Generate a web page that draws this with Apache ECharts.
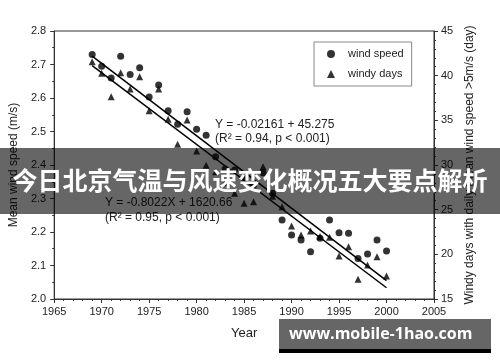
<!DOCTYPE html>
<html><head><meta charset="utf-8">
<script src="https://cdn.jsdelivr.net/npm/echarts@6/dist/echarts.min.js"></script>
<style>html,body{margin:0;padding:0;background:#fff}#c{width:500px;height:362px}</style>
</head><body><div id="c"></div>
<script>
const years = [1969,1970,1971,1972,1973,1974,1975,1976,1977,1978,1979,1980,1981,1982,1983,1984,1985,1986,1987,1988,1989,1990,1991,1992,1993,1994,1995,1996,1997,1998,1999,2000];
const windSpeed = [2.73,2.695,2.66,2.725,2.67,2.69,2.603,2.639,2.562,2.522,2.559,2.507,2.489,2.425,2.388,2.385,2.36,2.34,2.377,2.316,2.236,2.191,2.176,2.141,2.181,2.236,2.198,2.196,2.121,2.134,2.176,2.143];
const windyDays = [41.56,40.26,37.65,40.33,38.5,39.88,36.08,38.5,35.12,32.32,35.04,31.57,29.97,29.25,28.0,26.83,25.71,25.9,29.81,26.5,25.33,23.17,22.17,22.6,22.0,21.9,19.81,20.85,17.2,18.8,19.74,17.57];
const speedFit = [-0.02161, 45.275];   // slope, intercept
const daysFit = [-0.8022, 1620.66];
const fitYears = [1969, 2000];
const speedEq = ['Y = -0.02161 + 45.275', '(R² = 0.94, p < 0.001)'];
const daysEq = ['Y = -0.8022X + 1620.66', '(R² = 0.95, p < 0.001)'];
const titleText = '今日北京气温与风速变化概况五大要点解析';
const watermark = 'www.mobile-1hao.com';

const FONT = '"Liberation Sans", Arial, Helvetica, sans-serif';
const axisCol = '#333';
const chart = echarts.init(document.getElementById('c'));
const fitLine = (c) => fitYears.map(y => [y, c[0]*y + c[1]]);

chart.setOption({
  animation: false,
  textStyle: {fontFamily: FONT},
  grid: {left: 49, right: 66, top: 31, bottom: 63, show: true, borderColor: axisCol, borderWidth: 1},
  legend: {
    orient: 'vertical', left: 314, top: 42, data: ['wind speed','windy days'],
    borderColor: '#888', borderWidth: 1, padding: [5, 8, 5, 13], itemGap: 6,
    itemWidth: 8, itemHeight: 8,
    textStyle: {fontSize: 11, color: '#222', fontFamily: FONT, lineHeight: 14, padding: [0,0,0,8]}
  },
  xAxis: {
    type: 'value', min: 1965, max: 2005, interval: 5,
    name: 'Year', nameLocation: 'middle', nameGap: 28,
    nameTextStyle: {fontSize: 13, color: '#222', fontFamily: FONT},
    axisLine: {lineStyle: {color: axisCol}},
    axisTick: {length: 4, lineStyle: {color: axisCol}},
    minorTick: {show: true, splitNumber: 5, length: 2, lineStyle: {color: axisCol}},
    axisLabel: {fontSize: 11, color: '#222', fontFamily: FONT, margin: 7, formatter: v => String(v)},
    splitLine: {show: false}
  },
  yAxis: [{
    type: 'value', min: 2.0, max: 2.8, interval: 0.1, position: 'left',
    name: 'Mean wind speed (m/s)', nameLocation: 'middle', nameGap: 30, nameRotate: 90,
    nameTextStyle: {fontSize: 12, color: '#222', fontFamily: FONT},
    axisLine: {show: true, lineStyle: {color: axisCol}},
    axisTick: {show: true, length: 4, lineStyle: {color: axisCol}},
    minorTick: {show: true, splitNumber: 2, length: 2, lineStyle: {color: axisCol}},
    axisLabel: {fontSize: 11, color: '#222', fontFamily: FONT, margin: 8, formatter: v => v.toFixed(1)},
    splitLine: {show: false}
  }, {
    type: 'value', min: 15, max: 45, interval: 5, position: 'right',
    name: 'Windy days with daily mean wind speed >5m/s (day)', nameLocation: 'middle', nameGap: 29, nameRotate: 90,
    nameTextStyle: {fontSize: 12, color: '#222', fontFamily: FONT},
    axisLine: {show: true, lineStyle: {color: axisCol}},
    axisTick: {show: true, length: 4, lineStyle: {color: axisCol}},
    minorTick: {show: true, splitNumber: 5, length: 2, lineStyle: {color: axisCol}},
    axisLabel: {fontSize: 11, color: '#222', fontFamily: FONT, margin: 7},
    splitLine: {show: false}
  }],
  series: [
    {name: 'wind speed', type: 'scatter', yAxisIndex: 0, symbol: 'circle', symbolSize: 7,
     itemStyle: {color: '#000'}, data: years.map((y,i) => [y, windSpeed[i]])},
    {name: 'windy days', type: 'scatter', yAxisIndex: 1, symbol: 'triangle', symbolSize: 7,
     itemStyle: {color: '#000'}, data: years.map((y,i) => [y, windyDays[i]])},
    {name: 'fit speed', type: 'line', yAxisIndex: 0, showSymbol: false, symbol: 'none',
     lineStyle: {color: '#000', width: 1.5}, data: fitLine(speedFit)},
    {name: 'fit days', type: 'line', yAxisIndex: 1, showSymbol: false, symbol: 'none',
     lineStyle: {color: '#000', width: 1.5}, data: fitLine(daysFit)}
  ],
  graphic: [
    {type: 'text', left: 215, top: 119, z: 10, style: {text: speedEq[0], font: '12px ' + FONT, fill: '#222'}},
    {type: 'text', left: 215, top: 133, z: 10, style: {text: speedEq[1], font: '12px ' + FONT, fill: '#222'}},
    {type: 'text', left: 105, top: 197, z: 10, style: {text: daysEq[0], font: '12px ' + FONT, fill: '#222'}},
    {type: 'text', left: 105, top: 212, z: 10, style: {text: daysEq[1], font: '12px ' + FONT, fill: '#222'}},
    {type: 'rect', left: 0, top: 148, z: 100, shape: {width: 500, height: 66}, style: {fill: 'rgba(0,0,0,0.6)'}},
    {type: 'text', left: 'center', top: 168, z: 101, style: {text: titleText, font: 'bold 25px "Noto Sans CJK SC", sans-serif', fill: '#fff'}},
    {type: 'rect', left: 279, top: 319, z: 100, shape: {width: 212, height: 30}, style: {fill: '#666'}},
    {type: 'rect', left: 279, top: 349, z: 100, shape: {width: 212, height: 4}, style: {fill: '#000'}},
    {type: 'text', left: 289, top: 326, z: 101, style: {text: watermark, font: 'bold 16px "Open Sans", "DejaVu Sans", sans-serif', fill: '#fff'}}
  ]
});
</script></body></html>
